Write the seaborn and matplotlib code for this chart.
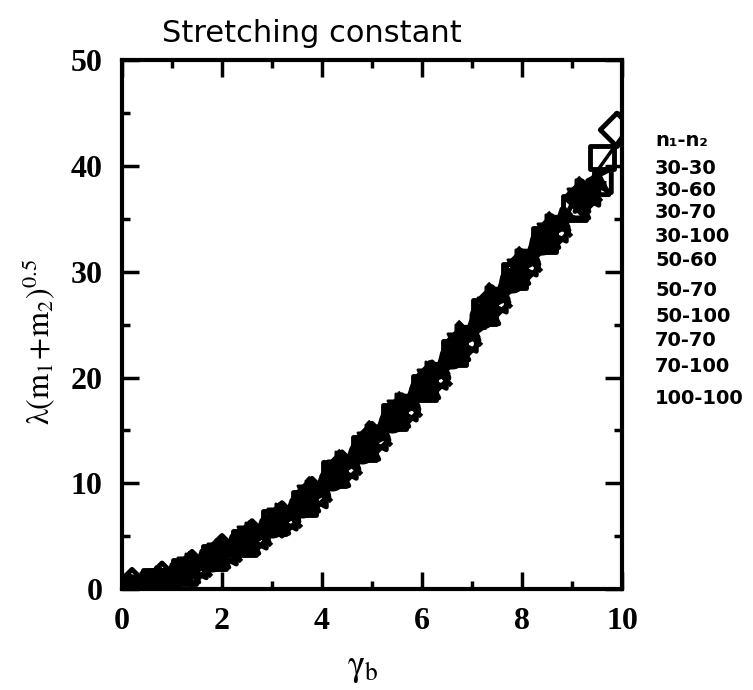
import matplotlib
matplotlib.use("Agg")
import matplotlib.pyplot as plt
from matplotlib.ticker import MultipleLocator
import seaborn as sns
import pandas as pd

sns.set_theme(style="ticks")
plt.rcParams["font.family"] = ["Liberation Serif", "DejaVu Serif"]
plt.rcParams["mathtext.fontset"] = "stix"

# chain-length pairs n1-n2
labels = ["30-30", "30-60", "30-70", "30-100", "50-60",
          "50-70", "50-100", "70-70", "70-100", "100-100"]
markers = ["o", "s", "^", "v", "D", "<", ">", "x", "*", "+"]
solid = ["30-30", "30-100", "50-100"]

gamma_30_30 = [0.0, 0.6, 1.2, 1.8, 2.4, 3.0, 3.6, 4.2, 4.8, 5.4, 6.0, 6.6, 7.2, 7.8, 8.4]
lam_30_30 = [0.1, 0.6, 1.6, 2.9, 4.4, 6.1, 8.0, 10.5, 13.1, 16.0, 18.9, 22.0, 25.8, 29.2, 32.8]

gamma_30_60 = [0.05, 0.65, 1.25, 1.85, 2.45, 3.05, 3.65, 4.25, 4.85, 5.45, 6.05, 6.65, 7.25, 7.85, 8.45, 9.05, 9.6]
lam_30_60 = [0.0, 0.7, 1.6, 3.0, 4.4, 6.3, 8.1, 10.9, 13.3, 16.3, 19.0, 22.3, 26.2, 29.6, 33.0, 36.0, 40.8]

gamma_30_70 = [0.1, 0.7, 1.3, 1.9, 2.5, 3.1, 3.7, 4.3, 4.9, 5.5, 6.1, 6.7, 7.3, 7.9, 8.5, 9.1, 9.5]
lam_30_70 = [0.1, 0.7, 1.8, 3.2, 4.5, 6.4, 8.5, 10.9, 13.4, 16.5, 19.2, 22.8, 26.2, 30.0, 33.4, 36.2, 38.4]

gamma_30_100 = [0.15, 0.75, 1.35, 1.95, 2.55, 3.15, 3.75, 4.35, 4.95, 5.55, 6.15, 6.75, 7.35, 7.95, 8.55, 9.15]
lam_30_100 = [0.2, 0.8, 1.9, 3.2, 4.8, 6.5, 8.7, 11.1, 13.7, 16.7, 19.7, 23.1, 26.5, 30.1, 33.5, 36.8]

gamma_50_60 = [0.2, 0.8, 1.4, 2.0, 2.6, 3.2, 3.8, 4.4, 5.0, 5.6, 6.2, 6.8, 7.4, 8.0, 8.6, 9.2, 9.9]
lam_50_60 = [0.3, 0.9, 2.0, 3.5, 4.9, 6.6, 8.9, 11.4, 14.1, 16.8, 19.9, 23.2, 27.0, 30.4, 33.7, 37.0, 43.4]

gamma_50_70 = [0.25, 0.85, 1.45, 2.05, 2.65, 3.25, 3.85, 4.45, 5.05, 5.65, 6.25, 6.85, 7.45, 8.05, 8.65, 9.3, 9.55]
lam_50_70 = [0.2, 1.0, 2.2, 3.5, 5.0, 6.8, 8.9, 11.6, 14.3, 17.1, 20.1, 23.6, 27.3, 30.8, 34.0, 37.4, 38.6]

gamma_50_100 = [0.3, 0.9, 1.5, 2.1, 2.7, 3.3, 3.9, 4.5, 5.1, 5.7, 6.3, 6.9, 7.5, 8.1, 8.7, 9.3]
lam_50_100 = [0.3, 1.1, 2.3, 3.6, 5.2, 7.0, 9.2, 11.9, 14.5, 17.4, 20.4, 23.9, 27.5, 31.0, 34.3, 37.6]

gamma_70_70 = [0.35, 0.95, 1.55, 2.15, 2.75, 3.35, 3.95, 4.55, 5.15, 5.75, 6.35, 6.95, 7.55, 8.15, 8.75, 9.35]
lam_70_70 = [0.4, 1.1, 2.4, 3.8, 5.3, 7.0, 9.5, 12.0, 14.8, 17.5, 20.4, 24.2, 27.8, 31.2, 34.5, 37.8]

gamma_70_100 = [0.4, 1.0, 1.6, 2.2, 2.8, 3.4, 4.0, 4.6, 5.2, 5.8, 6.4, 7.0, 7.6, 8.2, 8.8, 9.2]
lam_70_100 = [0.4, 1.2, 2.5, 3.9, 5.4, 7.3, 9.6, 12.2, 15.0, 17.9, 20.9, 24.4, 28.0, 31.6, 34.8, 36.6]

gamma_100_100 = [0.45, 1.05, 1.65, 2.25, 2.85, 3.45, 4.05, 4.65, 5.25, 5.85, 6.45, 7.05, 7.65, 8.25, 8.85, 9.45]
lam_100_100 = [0.5, 1.3, 2.6, 4.0, 5.6, 7.5, 9.8, 12.5, 15.2, 18.1, 21.2, 24.8, 28.3, 31.9, 35.0, 38.4]

# master curve through the collapsed data
fit_gamma = [0, 1, 2, 3, 4, 5, 6, 7, 8, 9, 10]
fit_lam = [0.0, 1.1, 3.3, 6.1, 9.7, 13.9, 18.8, 24.2, 30.2, 36.2, 42.8]

gammas = [gamma_30_30, gamma_30_60, gamma_30_70, gamma_30_100, gamma_50_60,
          gamma_50_70, gamma_50_100, gamma_70_70, gamma_70_100, gamma_100_100]
lams = [lam_30_30, lam_30_60, lam_30_70, lam_30_100, lam_50_60,
        lam_50_70, lam_50_100, lam_70_70, lam_70_100, lam_100_100]

frames = [pd.DataFrame({"gamma": g, "lam": l, "pair": lab})
          for g, l, lab in zip(gammas, lams, labels)]
data = pd.concat(frames, ignore_index=True)

fig = plt.figure(figsize=(7.53, 6.9), dpi=100)
ax = fig.add_axes([0.162, 0.146, 0.664, 0.767])

sns.lineplot(x=fit_gamma, y=fit_lam, ax=ax, color="black", linewidth=2.5,
             sort=True, legend=False)

for lab, m in zip(labels, markers):
    sub = data[data["pair"] == lab]
    if m in ("x", "+"):
        sns.scatterplot(data=sub, x="gamma", y="lam", ax=ax, marker=m,
                        color="black", s=300, linewidth=3.5, legend=False)
    elif lab in solid:
        sns.scatterplot(data=sub, x="gamma", y="lam", ax=ax, marker=m,
                        facecolor="black", edgecolor="black", s=280,
                        linewidth=2, legend=False)
    else:
        sns.scatterplot(data=sub, x="gamma", y="lam", ax=ax, marker=m,
                        facecolor="none", edgecolor="black", s=290,
                        linewidth=3.5, legend=False)

ax.set_xlim(0, 10)
ax.set_ylim(0, 50)
ax.xaxis.set_major_locator(MultipleLocator(2))
ax.xaxis.set_minor_locator(MultipleLocator(1))
ax.yaxis.set_major_locator(MultipleLocator(10))
ax.yaxis.set_minor_locator(MultipleLocator(5))

for sp in ax.spines.values():
    sp.set_visible(True)
    sp.set_linewidth(3)
    sp.set_color("black")

ax.tick_params(which="both", direction="in", top=True, right=True,
               color="black", width=2.5)
ax.tick_params(which="major", length=12)
ax.tick_params(which="minor", length=6)
ax.tick_params(axis="y", which="major", pad=14)
ax.tick_params(axis="x", which="major", pad=13)
for t in ax.get_xticklabels() + ax.get_yticklabels():
    t.set_fontsize(23)
    t.set_fontweight("bold")
    t.set_color("black")

ax.set_xlabel(r"$\mathrm{\gamma_b}$", fontsize=26, color="black")
ax.xaxis.set_label_coords(0.482, -0.118)
ax.set_ylabel(r"$\mathrm{\lambda(m_1\!+\!m_2)^{0.5}}$", fontsize=23,
              color="black")
ax.yaxis.set_label_coords(-0.13, 0.467)

fig.text(312 / 753, 1 - 42 / 690, "Stretching constant", ha="center",
         va="baseline", fontsize=22, family="DejaVu Sans", color="black")

# series key, listed down the right-hand side
fig.text(655 / 753, 1 - 140 / 690, "n\u2081-n\u2082", ha="left", va="center",
         fontsize=14, fontweight="bold", family="DejaVu Sans", color="black")
key_rows = [168, 190, 212, 237, 260, 290, 317, 340, 367, 398]
for lab, row in zip(labels, key_rows):
    fig.text(655 / 753, 1 - row / 690, lab, ha="left", va="center",
             fontsize=14, fontweight="bold", family="DejaVu Sans", color="black")

fig.savefig("out.png", dpi=100, facecolor="white")
